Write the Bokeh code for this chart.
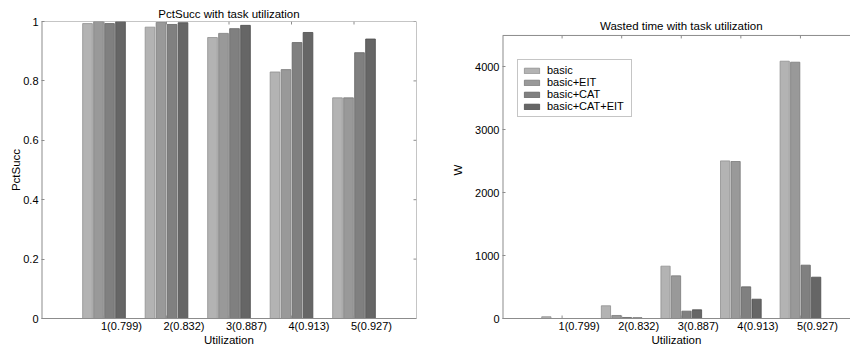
import math
from bokeh.plotting import figure
from bokeh.models import (Range1d, LinearAxis, FixedTicker, Legend, LegendItem,
                          ColumnDataSource, Span, Label)
from bokeh.transform import dodge
from bokeh.layouts import row
from bokeh.embed import file_html
from bokeh.resources import INLINE

# ---------------- data ----------------
groups = [1, 2, 3, 4, 5]
tick_labels = ["1(0.799)", "2(0.832)", "3(0.887)", "4(0.913)", "5(0.927)"]
series_names = ["basic", "basic+EIT", "basic+CAT", "basic+CAT+EIT"]

pct_basic = [0.993, 0.981, 0.946, 0.830, 0.743]
pct_eit = [1.000, 0.997, 0.960, 0.838, 0.743]
pct_cat = [0.993, 0.990, 0.976, 0.929, 0.895]
pct_cat_eit = [1.000, 0.996, 0.987, 0.963, 0.941]

w_basic = [28, 202, 832, 2506, 4091]
w_eit = [0, 48, 678, 2496, 4075]
w_cat = [0, 16, 117, 503, 848]
w_cat_eit = [0, 10, 138, 307, 657]

pct_yticks = [0, 0.2, 0.4, 0.6, 0.8, 1]
w_yticks = [0, 1000, 2000, 3000, 4000]

PCT_TOP = 1
W_TOP = 4500

# ---------------- style ----------------
FONT = "Liberation Sans"
AX = "#8c8c8c"
FILLS = ["#b3b3b3", "#999999", "#808080", "#666666"]
EDGES = ["#8f8f8f", "#7a7a7a", "#636363", "#4d4d4d"]
PITCH = 0.176
BAR_W = 0.155
OFFSETS = [-1.5 * PITCH, -0.5 * PITCH, 0.5 * PITCH, 1.5 * PITCH]
TICK = 3


def make_fig(title, ylabel, cols, box_top, y_end, x_end, yticks, ytick_overrides,
             width, mb_left, mb_right, ylabel_standoff, box_right, shift, title_in_frame):
    src = ColumnDataSource(dict(x=groups, s0=cols[0], s1=cols[1], s2=cols[2], s3=cols[3]))
    p = figure(width=width, height=349, x_range=Range1d(0, x_end), y_range=Range1d(0, y_end),
               output_backend="svg", toolbar_location=None, x_axis_location=None,
               min_border_left=mb_left, min_border_right=mb_right,
               min_border_top=21, min_border_bottom=31)
    p.xgrid.visible = False
    p.ygrid.visible = False
    p.background_fill_color = "white"
    p.border_fill_color = "white"
    p.outline_line_color = None

    renderers = []
    for i in range(4):
        r = p.vbar(x=dodge("x", OFFSETS[i], range=p.x_range), top="s%d" % i, width=BAR_W,
                   bottom=0, source=src, fill_color=FILLS[i], line_color=EDGES[i], line_width=0.8)
        renderers.append(r)

    # box: top line, optional right line, inward tick marks
    p.add_layout(Span(location=box_top, dimension="width", line_color=AX, line_width=1))
    p.segment(x0=[0], y0=[0], x1=[0], y1=[box_top], line_color=AX, line_width=2)
    p.ray(x=groups, y=[0] * len(groups), length=TICK, length_units="screen",
          angle=math.pi / 2, line_color=AX, line_width=1)
    p.ray(x=groups, y=[box_top] * len(groups), length=TICK, length_units="screen",
          angle=-math.pi / 2, line_color=AX, line_width=1)
    if box_right:
        p.add_layout(Span(location=x_end, dimension="height", line_color=AX, line_width=1))
        p.ray(x=[x_end] * len(yticks), y=yticks, length=TICK, length_units="screen",
              angle=math.pi, line_color=AX, line_width=1)

    # title
    if title_in_frame:
        p.title.text = ""
        p.add_layout(Label(x=3, y=box_top, y_offset=9, text=title, text_align="center",
                           text_baseline="alphabetic", text_font=FONT, text_font_size="11.5px",
                           text_color="#000000"))
    else:
        p.title.text = title
        p.title.align = "center"
        p.title.vertical_align = "top"
        p.title.standoff = 0
        p.title.text_font = FONT
        p.title.text_font_size = "11.5px"
        p.title.text_font_style = "normal"
        p.title.text_color = "#000000"

    yax = p.yaxis[0]
    yax.axis_line_color = None
    yax.major_tick_line_color = AX
    yax.minor_tick_line_color = None
    yax.major_tick_in = TICK
    yax.major_tick_out = 0
    yax.major_label_text_font = FONT
    yax.major_label_text_font_size = "11px"
    yax.major_label_text_color = "#000000"
    yax.axis_label_text_font = FONT
    yax.axis_label_text_font_size = "11.5px"
    yax.axis_label_text_font_style = "normal"
    yax.axis_label_text_color = "#000000"
    yax.ticker = FixedTicker(ticks=yticks)
    if ytick_overrides:
        yax.major_label_overrides = ytick_overrides
    yax.major_label_standoff = 3
    yax.axis_label = ylabel
    yax.axis_label_standoff = ylabel_standoff

    # x labels sit to the right of the group ticks (as in the original)
    p.extra_x_ranges = {"lab": Range1d(-shift, x_end - shift)}
    lab = LinearAxis(x_range_name="lab", ticker=FixedTicker(ticks=groups),
                     major_label_overrides={g: t for g, t in zip(groups, tick_labels)})
    lab.axis_line_color = AX
    lab.major_tick_line_color = None
    lab.minor_tick_line_color = None
    lab.major_tick_in = 0
    lab.major_tick_out = 0
    lab.major_label_text_font = FONT
    lab.major_label_text_font_size = "11px"
    lab.major_label_text_color = "#000000"
    lab.major_label_standoff = 1
    lab.axis_label = "Utilization"
    lab.axis_label_standoff = -1
    lab.axis_label_text_font = FONT
    lab.axis_label_text_font_size = "11.5px"
    lab.axis_label_text_font_style = "normal"
    lab.axis_label_text_color = "#000000"
    p.add_layout(lab, "below")
    return p, renderers


p1, r1 = make_fig("PctSucc with task utilization", "PctSucc",
                  [pct_basic, pct_eit, pct_cat, pct_cat_eit], PCT_TOP, PCT_TOP, 6, pct_yticks,
                  {0: "0", 1: "1"}, 440, 41, 24, -2, True, 0.28, False)

p2, r2 = make_fig("Wasted time with task utilization", "W",
                  [w_basic, w_eit, w_cat, w_cat_eit], W_TOP, 4722, 5.84, w_yticks,
                  None, 410, 62, 0, 8, False, 0.285, True)

legend = Legend(items=[LegendItem(label=n, renderers=[r]) for n, r in zip(series_names, r2)],
                location=(15, 201))
legend.label_text_font = FONT
legend.label_text_font_size = "11px"
legend.label_text_color = "#000000"
legend.label_height = 12
legend.label_width = 80
legend.label_standoff = 6
legend.glyph_width = 19
legend.glyph_height = 7
legend.spacing = 0
legend.padding = 4
legend.margin = 0
legend.border_line_color = AX
legend.border_line_width = 1
legend.background_fill_color = "white"
p2.add_layout(legend)

layout = row(p1, p2)
open("out.html", "w").write(file_html(layout, INLINE))
